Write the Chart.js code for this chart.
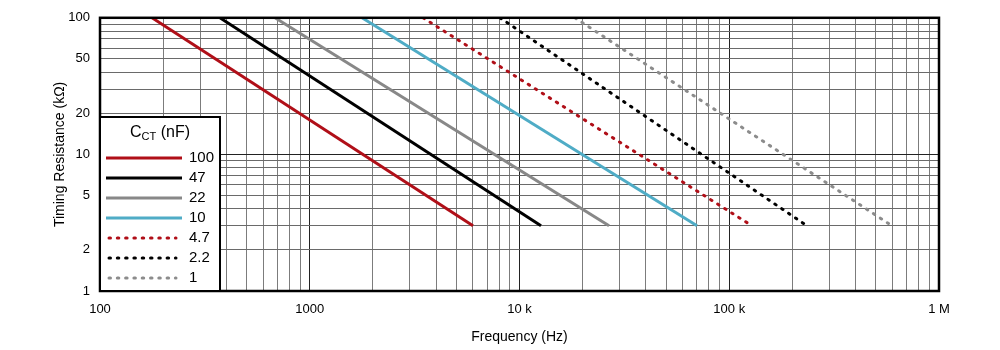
<!DOCTYPE html>
<html>
<head>
<meta charset="utf-8">
<script src="https://cdn.jsdelivr.net/npm/chart.js@4/dist/chart.umd.min.js"></script>
<style>
  html, body { margin: 0; padding: 0; background: #fff; }
  #wrap { width: 1000px; height: 350px; position: relative; }
</style>
</head>
<body>
<div id="wrap"><canvas id="timingChart"></canvas></div>
<script>
// timing resistor vs. oscillator frequency, one line per CT value
const capValues = ['100', '47', '22', '10', '4.7', '2.2', '1'];
const freqStart = [177, 373, 683, 1775, 3467, 8072, 18390];      // Hz at R = resStart
const freqEnd = [6000, 12660, 26720, 70200, 128400, 234800, 597000]; // Hz at R = resEnd
const resStart = [100, 100, 100, 100, 100, 100, 100];            // kOhm
const resEnd = [3, 3, 3, 3, 3, 3, 3];                            // kOhm

const lineColors = ['#b00f18', '#000000', '#888888', '#4facc6', '#b00f18', '#000000', '#8c8c8c'];
const dotted = [false, false, false, false, true, true, true];

const xTickValues = [100, 1000, 10000, 100000, 1000000];
const xTickLabels = ['100', '1000', '10 k', '100 k', '1 M'];
const yTickValues = [1, 2, 5, 10, 20, 50, 100];
const yTickLabels = ['1', '2', '5', '10', '20', '50', '100'];

const FONT = "'Liberation Sans', Arial, sans-serif";
const DOTS = [1.5, 6.8];

// 1..9 x each decade, for the log grid
function logGrid(min, max) {
    let out = [];
    for (let d = min; d < max; d *= 10) {
        for (let m = 1; m < 10; m++) out.push(d * m);
    }
    out.push(max);
    return out;
}
function isDecade(v) {
    let l = Math.log10(v);
    return Math.abs(l - Math.round(l)) < 1e-9;
}

const datasets = capValues.map((c, i) => ({
    label: c,
    data: [{ x: freqStart[i], y: resStart[i] }, { x: freqEnd[i], y: resEnd[i] }],
    borderColor: lineColors[i],
    backgroundColor: lineColors[i],
    borderWidth: 3,
    borderDash: dotted[i] ? DOTS : [],
    borderCapStyle: dotted[i] ? 'round' : 'butt',
    showLine: true,
    pointRadius: 0,
}));

// frame around the plot + the boxed legend in the lower left corner
const framePlugin = {
    id: 'frameAndLegend',
    afterDraw(chart) {
        const { ctx, chartArea: a } = chart;
        ctx.save();
        ctx.strokeStyle = '#000';
        ctx.lineWidth = 2.5;
        ctx.strokeRect(a.left, a.top, a.right - a.left, a.bottom - a.top);

        const w = 120, h = 174;
        const bx = a.left, by = a.bottom - h;
        ctx.fillStyle = '#fff';
        ctx.fillRect(bx, by, w, h);
        ctx.lineWidth = 2;
        ctx.strokeRect(bx, by, w, h);

        // title: C with subscript CT
        ctx.fillStyle = '#000';
        ctx.textBaseline = 'middle';
        ctx.textAlign = 'left';
        const big = '16px ' + FONT, small = '11px ' + FONT;
        ctx.font = big; const w1 = ctx.measureText('C').width;
        ctx.font = small; const w2 = ctx.measureText('CT').width;
        ctx.font = big; const w3 = ctx.measureText(' (nF)').width;
        let tx = bx + w / 2 - (w1 + w2 + w3) / 2;
        const ty = by + 16;
        ctx.font = big; ctx.fillText('C', tx, ty); tx += w1;
        ctx.font = small; ctx.fillText('CT', tx, ty + 4); tx += w2;
        ctx.font = big; ctx.fillText(' (nF)', tx, ty);

        chart.data.datasets.forEach((ds, i) => {
            const y = by + 41 + i * 20;
            ctx.beginPath();
            ctx.strokeStyle = ds.borderColor;
            ctx.lineWidth = 3;
            ctx.setLineDash(ds.borderDash);
            ctx.lineCap = ds.borderCapStyle;
            if (ds.borderDash.length) {
                ctx.moveTo(bx + 9, y); ctx.lineTo(bx + 76, y);
            } else {
                ctx.moveTo(bx + 6, y); ctx.lineTo(bx + 82, y);
            }
            ctx.stroke();
            ctx.setLineDash([]);
            ctx.fillStyle = '#000';
            ctx.font = '15px ' + FONT;
            ctx.fillText(ds.label, bx + 89, y);
        });
        ctx.restore();
    }
};

new Chart(document.getElementById('timingChart'), {
    type: 'scatter',
    data: { datasets: datasets },
    options: {
        responsive: true,
        maintainAspectRatio: false,
        animation: false,
        layout: { padding: { top: 15, right: 61, left: 0, bottom: 0 } },
        plugins: {
            legend: { display: false },
            tooltip: { enabled: false },
        },
        scales: {
            x: {
                type: 'logarithmic',
                min: 100,
                max: 1000000,
                afterBuildTicks: axis => { axis.ticks = logGrid(100, 1000000).map(v => ({ value: v })); },
                afterFit: scale => { scale.height = 59; },
                grid: {
                    drawTicks: false,
                    color: ctx => ctx.tick && isDecade(ctx.tick.value) ? '#222' : '#7c7c7c',
                    lineWidth: 1,
                },
                border: { display: false },
                ticks: {
                    autoSkip: false,
                    maxRotation: 0,
                    padding: 11,
                    color: '#000',
                    font: { family: FONT, size: 13 },
                    callback: v => {
                        let k = xTickValues.findIndex(t => Math.abs(t - v) / t < 1e-6);
                        return k >= 0 ? xTickLabels[k] : '';
                    },
                },
                title: {
                    display: true,
                    text: 'Frequency (Hz)',
                    color: '#000',
                    font: { family: FONT, size: 14 },
                    padding: { top: 0, bottom: 4 },
                },
            },
            y: {
                type: 'logarithmic',
                min: 1,
                max: 100,
                afterBuildTicks: axis => { axis.ticks = logGrid(1, 100).map(v => ({ value: v })); },
                afterFit: scale => { scale.width = 100; },
                grid: {
                    drawTicks: false,
                    color: ctx => ctx.tick && isDecade(ctx.tick.value) ? '#222' : '#6a6a6a',
                    lineWidth: 1,
                },
                border: { display: false },
                ticks: {
                    autoSkip: false,
                    padding: 10,
                    color: '#000',
                    font: { family: FONT, size: 13 },
                    callback: v => {
                        let k = yTickValues.findIndex(t => Math.abs(t - v) / t < 1e-6);
                        return k >= 0 ? yTickLabels[k] : '';
                    },
                },
                title: {
                    display: true,
                    text: 'Timing Resistance (kΩ)',
                    color: '#000',
                    font: { family: FONT, size: 14 },
                    padding: { top: 52, bottom: 0 },
                },
            },
        },
    },
    plugins: [framePlugin],
});
</script>
</body>
</html>
